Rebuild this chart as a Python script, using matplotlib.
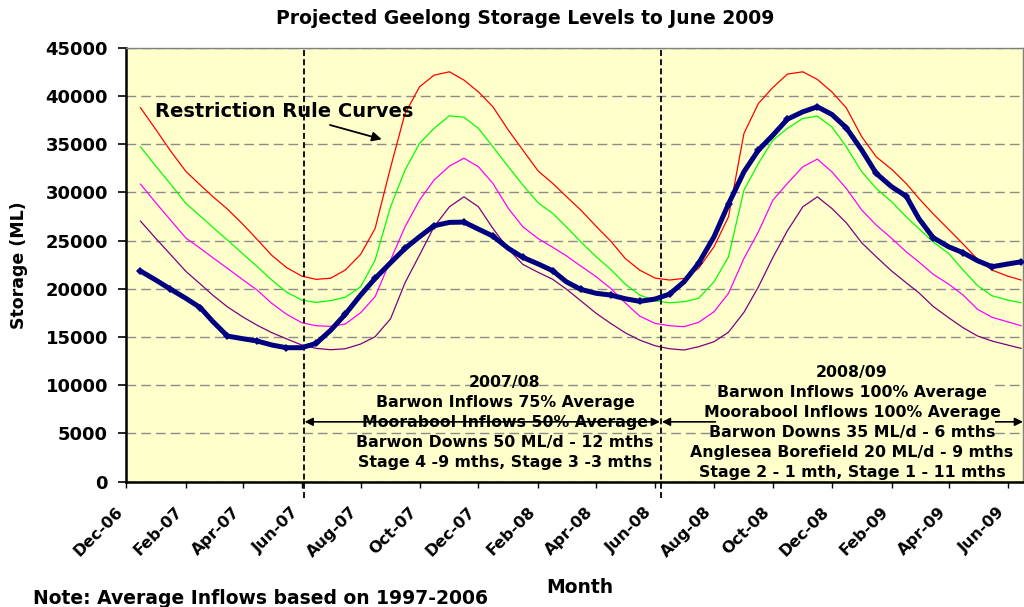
import matplotlib
matplotlib.use('Agg')
import matplotlib.pyplot as plt
from matplotlib.patches import Rectangle
from matplotlib.transforms import ScaledTranslation
import pandas as pd

plt.rcParams['font.family'] = ['DejaVu Sans']
plt.rcParams['font.weight'] = 'bold'

# ---------------- data ----------------
dates = [
    '2006-12-16',
    '2007-01-01', '2007-01-16', '2007-02-01', '2007-02-16', '2007-03-01', '2007-03-16',
    '2007-04-01', '2007-04-16', '2007-05-01', '2007-05-16', '2007-06-01', '2007-06-16',
    '2007-07-01', '2007-07-16', '2007-08-01', '2007-08-16', '2007-09-01', '2007-09-16',
    '2007-10-01', '2007-10-16', '2007-11-01', '2007-11-16', '2007-12-01', '2007-12-16',
    '2008-01-01', '2008-01-16', '2008-02-01', '2008-02-16', '2008-03-01', '2008-03-16',
    '2008-04-01', '2008-04-16', '2008-05-01', '2008-05-16', '2008-06-01', '2008-06-16',
    '2008-07-01', '2008-07-16', '2008-08-01', '2008-08-16', '2008-09-01', '2008-09-16',
    '2008-10-01', '2008-10-16', '2008-11-01', '2008-11-16', '2008-12-01', '2008-12-16',
    '2009-01-01', '2009-01-16', '2009-02-01', '2009-02-16', '2009-03-01', '2009-03-16',
    '2009-04-01', '2009-04-16', '2009-05-01', '2009-05-16', '2009-06-01', '2009-06-15',
]

storage = [
    21840,
    20900, 19970, 19010, 18040, 16600, 15100,
    14820, 14580, 14170, 13890, 13890, 14340,
    15700, 17350, 19350, 21080, 22700, 24190,
    25400, 26540, 26890, 26920, 26190, 25470,
    24190, 23260, 22570, 21870, 20730, 19940,
    19530, 19350, 18970, 18700, 18940, 19450,
    20730, 22640, 25400, 28800, 32140, 34390,
    35940, 37600, 38360, 38880, 38090, 36700,
    34390, 31970, 30580, 29620, 27300, 25300,
    24360, 23740, 22910, 22290, 22570, 22800,
]

rule_red = [
    38780,
    36510, 34320, 32180, 30760, 29560, 28270,
    26700, 25100, 23470, 22220, 21320, 20980,
    21100, 21940, 23570, 26260, 32590, 38190,
    40950, 42160, 42510, 41650, 40430, 38880,
    36460, 34390, 32200, 30930, 29580, 28170,
    26470, 24950, 23150, 21940, 21110, 20910,
    21080, 22120, 24360, 27470, 36120, 39230,
    40890, 42270, 42510, 41720, 40430, 38770,
    35770, 33690, 32390, 30930, 29400, 27770,
    26160, 24640, 23050, 21940, 21320, 20910,
]

rule_green = [
    34730,
    32710, 30880, 28860, 27540, 26370, 25060,
    23620, 22300, 20900, 19680, 18830, 18590,
    18780, 19110, 20210, 22980, 28510, 32310,
    35080, 36640, 37950, 37800, 36640, 34730,
    32660, 30760, 28900, 27820, 26430, 24880,
    23320, 22010, 20490, 19350, 18760, 18550,
    18660, 19010, 20730, 23320, 30240, 33010,
    35420, 36640, 37670, 37910, 36800, 34730,
    32140, 30410, 29030, 27470, 26250, 24860,
    23670, 21940, 20320, 19280, 18830, 18550,
]

rule_magenta = [
    30860,
    28910, 27140, 25270, 24190, 23220, 22130,
    20940, 19850, 18490, 17380, 16480, 16170,
    16100, 16340, 17520, 19180, 22980, 26430,
    29200, 31280, 32730, 33550, 32660, 30930,
    28340, 26430, 25200, 24300, 23430, 22360,
    21250, 20040, 18550, 17170, 16410, 16170,
    16070, 16520, 17620, 19530, 23150, 25920,
    29200, 30930, 32660, 33450, 32140, 30410,
    28170, 26610, 25230, 23840, 22800, 21500,
    20490, 19350, 17870, 17040, 16580, 16170,
]

rule_purple = [
    27020,
    25210, 23570, 21810, 20490, 19330, 18130,
    17080, 16210, 15450, 14820, 14170, 13820,
    13680, 13780, 14270, 15030, 16890, 20630,
    23500, 26430, 28510, 29540, 28510, 26260,
    24120, 22530, 21700, 20980, 19970, 18760,
    17450, 16410, 15440, 14680, 14090, 13780,
    13650, 13990, 14510, 15500, 17560, 20210,
    23260, 26020, 28510, 29540, 28340, 26850,
    24770, 23320, 21840, 20630, 19600, 18170,
    17000, 15960, 15100, 14580, 14170, 13820,
]

tick_dates = ['2006-12-01', '2007-02-01', '2007-04-01', '2007-06-01', '2007-08-01',
              '2007-10-01', '2007-12-01', '2008-02-01', '2008-04-01', '2008-06-01',
              '2008-08-01', '2008-10-01', '2008-12-01', '2009-02-01', '2009-04-01',
              '2009-06-01']
tick_labels = ['Dec-06', 'Feb-07', 'Apr-07', 'Jun-07', 'Aug-07', 'Oct-07', 'Dec-07',
               'Feb-08', 'Apr-08', 'Jun-08', 'Aug-08', 'Oct-08', 'Dec-08', 'Feb-09',
               'Apr-09', 'Jun-09']
y_ticks = [0, 5000, 10000, 15000, 20000, 25000, 30000, 35000, 40000, 45000]

period_breaks = ['2007-06-03', '2008-06-07']

title = 'Projected Geelong Storage Levels to June 2009'
block_0708 = ['2007/08', 'Barwon Inflows 75% Average', 'Moorabool Inflows 50% Average',
              'Barwon Downs 50 ML/d - 12 mths', 'Stage 4 -9 mths, Stage 3 -3 mths']
block_0809 = ['2008/09', 'Barwon Inflows 100% Average', 'Moorabool Inflows 100% Average',
              'Barwon Downs 35 ML/d - 6 mths', 'Anglesea Borefield 20 ML/d - 9 mths',
              'Stage 2 - 1 mth, Stage 1 - 11 mths']

# ---------------- figure ----------------
W, H = 1024, 607
fig = plt.figure(figsize=(W / 100, H / 100), dpi=100)
fig.patch.set_facecolor('white')


def fx(px):
    return px / W


def fy(py):
    return 1 - py / H


ax = fig.add_axes([fx(126), fy(481.6), (1023 - 126) / W, (481.6 - 47.8) / H])
ax.set_facecolor('#FFFFCC')

x = pd.to_datetime(dates)
ax.plot(x, rule_red, color='#FF0000', lw=0.9, zorder=3)
ax.plot(x, rule_green, color='#00FF00', lw=0.9, zorder=3)
ax.plot(x, rule_magenta, color='#FF00FF', lw=0.9, zorder=3)
ax.plot(x, rule_purple, color='#800080', lw=0.9, zorder=3)
ax.plot(x, storage, color='#000080', lw=3.6, marker='D', ms=3.6, mew=0,
        markevery=2, zorder=5, solid_joinstyle='round', solid_capstyle='round')

ax.set_ylim(0, 45000)
ax.set_xlim(pd.Timestamp('2006-12-01'), pd.Timestamp('2009-06-17'))
ax.set_yticks(y_ticks)
ax.set_yticklabels([str(v) for v in y_ticks], fontsize=13, fontweight='bold')
ax.set_xticks(pd.to_datetime(tick_dates))
ax.set_xticklabels(tick_labels, rotation=45, ha='right', va='center',
                   rotation_mode='anchor', fontsize=11.5, fontweight='bold')
ax.tick_params(axis='y', length=6, width=1.2, pad=7, direction='out')
ax.tick_params(axis='x', length=4, width=1, pad=16, direction='out')
shift = ScaledTranslation(-5.5 / 100, 0, fig.dpi_scale_trans)
for lab in ax.get_xticklabels():
    lab.set_transform(lab.get_transform() + shift)
ax.yaxis.grid(True, color='#8C8C8C', lw=1, linestyle=(0, (7, 3.6)))
ax.set_axisbelow(True)
for s in ['left', 'bottom']:
    ax.spines[s].set_linewidth(1.8)
    ax.spines[s].set_color('black')
for s in ['top', 'right']:
    ax.spines[s].set_linewidth(1)
    ax.spines[s].set_color('#808080')

# period separators (extend below the axis)
for d in period_breaks:
    ax.plot([pd.Timestamp(d)] * 2, [-1700, 45000], color='black', lw=1.3,
            ls=(0, (3.3, 1.8)), clip_on=False, zorder=4)

# double arrows
arrow_y = 6200
ax.annotate('', xy=(pd.Timestamp('2007-06-04'), arrow_y),
            xytext=(pd.Timestamp('2008-06-06'), arrow_y),
            arrowprops=dict(arrowstyle='<|-|>', color='black', lw=1.2,
                            mutation_scale=12, shrinkA=0, shrinkB=0), zorder=4)
ax.annotate('', xy=(pd.Timestamp('2008-06-08'), arrow_y),
            xytext=(pd.Timestamp('2008-08-17'), arrow_y),
            arrowprops=dict(arrowstyle='-|>', color='black', lw=1.2,
                            mutation_scale=12, shrinkA=0, shrinkB=0), zorder=4)
ax.annotate('', xy=(pd.Timestamp('2009-06-17'), arrow_y),
            xytext=(pd.Timestamp('2009-02-12'), arrow_y),
            arrowprops=dict(arrowstyle='-|>', color='black', lw=1.2,
                            mutation_scale=12, shrinkA=0, shrinkB=0), zorder=4,
            annotation_clip=False)

# background box of the 2008/09 text
fig.add_artist(Rectangle((fx(716), fy(478)), (995 - 716) / W, (478 - 366) / H,
                         transform=fig.transFigure, facecolor='#FFFFCC',
                         edgecolor='none', zorder=1))

# text blocks
for i, s in enumerate(block_0708):
    fig.text(fx(505), fy(386.7 + 20 * i), s, ha='center', va='baseline',
             fontsize=11.3, fontweight='bold', zorder=6)
for i, s in enumerate(block_0809):
    fig.text(fx(852), fy(377.3 + 19.9 * i), s, ha='center', va='baseline',
             fontsize=11.3, fontweight='bold', zorder=6)

# restriction rule curves label
fig.text(fx(155), fy(116.7), 'Restriction Rule Curves', ha='left', va='baseline',
         fontsize=14, fontweight='bold')
ax.annotate('', xy=(381.7, H - 139.3), xycoords='figure pixels',
            xytext=(330, H - 125), textcoords='figure pixels',
            arrowprops=dict(arrowstyle='-|>', color='black', lw=1.3,
                            mutation_scale=14, shrinkA=0, shrinkB=0))

# titles / labels
fig.text(fx(525), fy(24), title, ha='center', va='baseline', fontsize=13.5,
         fontweight='bold')
fig.text(fx(19), fy(265), 'Storage (ML)', ha='center', va='center', rotation=90,
         fontsize=12.5, fontweight='bold')
fig.text(fx(580), fy(593), 'Month', ha='center', va='baseline', fontsize=13.5,
         fontweight='bold')
fig.text(fx(33), fy(604), 'Note: Average Inflows based on 1997-2006', ha='left',
         va='baseline', fontsize=13.5, fontweight='bold')

fig.savefig('out.png', dpi=100, facecolor='white')
